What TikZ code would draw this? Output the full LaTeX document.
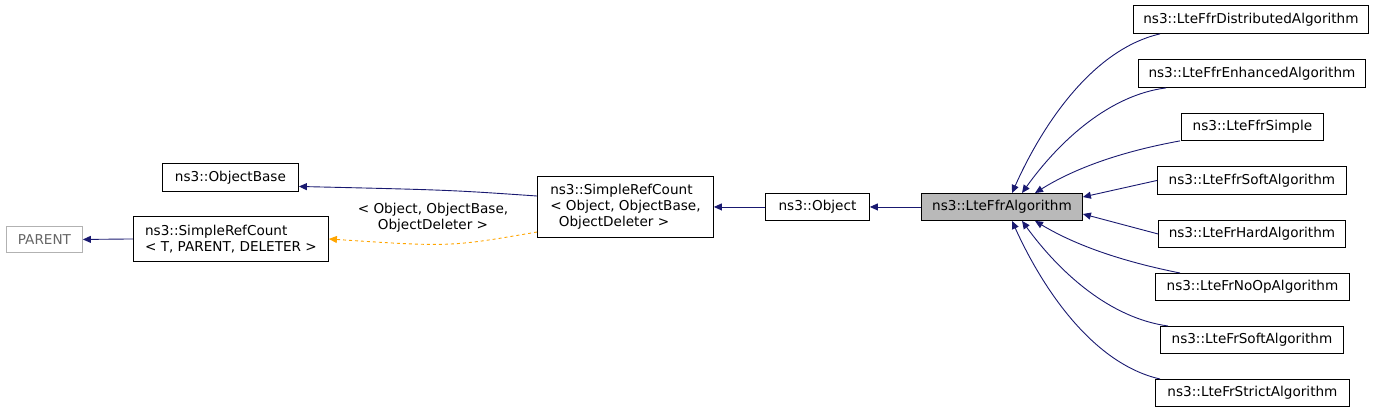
\documentclass[tikz,border=0pt]{standalone}
\usepackage{fontspec}
\setmainfont{DejaVu Sans}
\usetikzlibrary{arrows.meta,calc}
\definecolor{navy}{RGB}{25,25,112}
\definecolor{dorange}{RGB}{255,165,0}
\begin{document}
\begin{tikzpicture}[x=1pt,y=-1pt,line width=0.9pt,
  box/.style={draw=black,fill=white,inner sep=0pt,anchor=north west},
  lab/.style={font=\fontsize{13.6}{16}\selectfont},
  arr/.style={navy,-{Triangle[length=8pt,width=7pt,fill=navy]}},
  darr/.style={dorange,dashed,-{Triangle[length=8pt,width=7pt,fill=dorange]}}]
\useasboundingbox (0,0) rectangle (1376,413);
\newcommand{\bx}[6]{\node[box,minimum width=#4-#2,minimum height=#5-#3,#6] (#1) at (#2,#3) {};}
\bx{parent}{6}{226}{82}{252}{draw=gray!60}
\node[lab,text=gray!80!black] at (parent.center) {PARENT};
\bx{src}{133}{216}{328}{261}{}
\node[lab,align=left] at (src.center) {ns3::SimpleRefCount\\< T, PARENT, DELETER >};
\bx{ob}{162}{163}{298}{191}{}
\node[lab] at (ob.center) {ns3::ObjectBase};
\bx{sro}{537}{176}{713}{237}{}
\node[lab,align=left] at (sro.center) {ns3::SimpleRefCount\\< Object, ObjectBase,\\\ \ ObjectDeleter >};
\bx{obj}{765}{193}{869}{220}{}
\node[lab] at (obj.center) {ns3::Object};
\bx{lte}{921}{193}{1082}{220}{fill=gray!55}
\node[lab] at (lte.center) {ns3::LteFfrAlgorithm};
\bx{r1}{1133}{5}{1368}{33}{}
\node[lab] at (r1.center) {ns3::LteFfrDistributedAlgorithm};
\bx{r2}{1138}{59}{1365}{87}{}
\node[lab] at (r2.center) {ns3::LteFfrEnhancedAlgorithm};
\bx{r3}{1181}{113}{1323}{140}{}
\node[lab] at (r3.center) {ns3::LteFfrSimple};
\bx{r4}{1157}{166}{1346}{194}{}
\node[lab] at (r4.center) {ns3::LteFfrSoftAlgorithm};
\bx{r5}{1158}{220}{1345}{247}{}
\node[lab] at (r5.center) {ns3::LteFrHardAlgorithm};
\bx{r6}{1155}{273}{1349}{300}{}
\node[lab] at (r6.center) {ns3::LteFrNoOpAlgorithm};
\bx{r7}{1160}{326}{1343}{353}{}
\node[lab] at (r7.center) {ns3::LteFrSoftAlgorithm};
\bx{r8}{1155}{379}{1349}{406}{}
\node[lab] at (r8.center) {ns3::LteFrStrictAlgorithm};
% edges
\draw[arr] (src.west) -- (parent.east);
\draw[arr] (sro.west |- 0,196) .. controls (450,190) .. ([yshift=-9pt]ob.east);
\draw[darr] (sro.west |- 0,232) .. controls (450,247) .. (src.east);
\node[lab,align=center] (lbl) at (433,218) {< Object, ObjectBase,\\ObjectDeleter >};
\draw[arr] (obj.west) -- (sro.east |- obj.west);
\draw[arr] (lte.west) -- (obj.east);
\draw[arr] ([xshift=27pt]r1.south west) .. controls (1090,50) and (1040,130) .. ([xshift=91pt]lte.north west);
\draw[arr] ([xshift=28pt]r2.south west) .. controls (1110,95) and (1060,140) .. ([xshift=101pt]lte.north west);
\draw[arr] ([xshift=-1pt]r3.south west) .. controls (1130,150) and (1080,165) .. ([xshift=114pt]lte.north west);
\draw[arr] (r4.west) -- (lte.east |- 0,197);
\draw[arr] (r5.west) -- (lte.east |- 0,214);
\draw[arr] ([xshift=25pt]r6.north west) .. controls (1130,263) and (1080,248) .. ([xshift=114pt]lte.south west);
\draw[arr] ([xshift=8pt]r7.north west) .. controls (1110,318) and (1060,273) .. ([xshift=101pt]lte.south west);
\draw[arr] ([xshift=5pt]r8.north west) .. controls (1090,363) and (1040,283) .. ([xshift=91pt]lte.south west);
\end{tikzpicture}
\end{document}
